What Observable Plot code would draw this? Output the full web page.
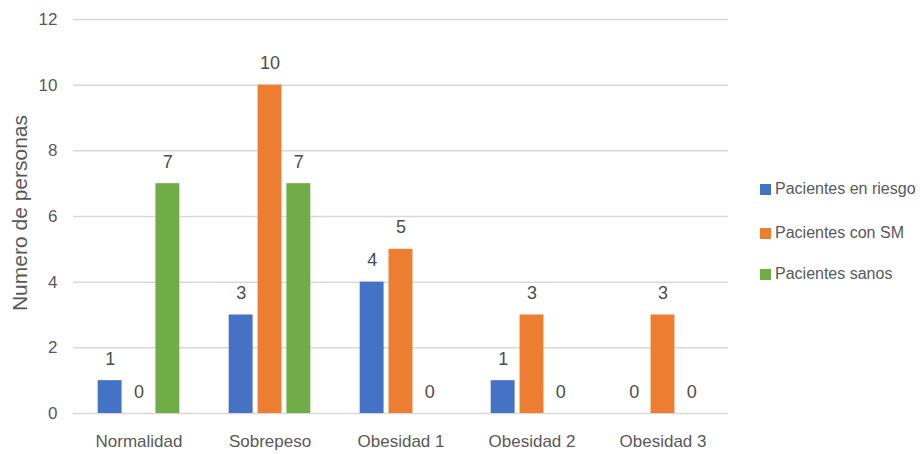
<!DOCTYPE html>
<html>
<head>
<meta charset="utf-8">
<script src="https://cdn.jsdelivr.net/npm/d3@7"></script>
<script src="https://cdn.jsdelivr.net/npm/@observablehq/plot@0.6"></script>
<style>
  html, body { margin: 0; padding: 0; background: #fff; }
  #wrap { position: relative; width: 920px; height: 454px; font-family: "Liberation Sans", Arial, sans-serif; }
  #wrap svg { position: absolute; left: 0; top: 0; }
  .ytitle { position: absolute; left: 20px; top: 213px; transform: translate(-50%, -50%) rotate(-90deg);
            font-size: 21px; color: #595959; white-space: nowrap; }
  .legend { position: absolute; left: 760px; top: 0; font-size: 16px; color: #595959; }
  .legend .row { position: absolute; left: 0; white-space: nowrap; display: flex; align-items: center; }
  .legend .sw { width: 11px; height: 11px; margin-right: 4px; }
</style>
</head>
<body>
<div id="wrap"></div>
<script>
// Categories of body mass index and the three patient groups
const categorias = ["Normalidad", "Sobrepeso", "Obesidad 1", "Obesidad 2", "Obesidad 3"];
const series = ["Pacientes en riesgo", "Pacientes con SM", "Pacientes sanos"];
const colores = ["#4472C4", "#ED7D31", "#70AD47"];
const enRiesgo = [1, 3, 4, 1, 0];
const conSM = [0, 10, 5, 3, 3];
const sanos = [7, 7, 0, 0, 0];
const yTicks = [0, 2, 4, 6, 8, 10, 12];

const valores = [enRiesgo, conSM, sanos];
const data = [];
categorias.forEach((c, i) => {
  series.forEach((s, j) => data.push({categoria: c, serie: s, valor: valores[j][i]}));
});

const chart = Plot.plot({
  width: 920,
  height: 454,
  marginLeft: 71,
  marginRight: 191,
  marginTop: 19,
  marginBottom: 41,
  style: {fontFamily: "'Liberation Sans', Arial, sans-serif", fontSize: "17px", color: "#595959", background: "#fff"},
  fx: {domain: categorias, padding: 0, label: null, axis: "bottom", tickSize: 0, tickPadding: 21},
  x: {domain: series, axis: null, paddingInner: 0.172, paddingOuter: 0.855, round: false},
  y: {domain: [0, 12], ticks: yTicks, tickSize: 0, tickPadding: 16, label: null},
  color: {domain: series, range: colores},
  marks: [
    Plot.ruleY(yTicks, {stroke: "#d9d9d9", strokeWidth: 1.5}),
    Plot.barY(data, {fx: "categoria", x: "serie", y: "valor", fill: "serie"}),
    Plot.text(data, {fx: "categoria", x: "serie", y: "valor", text: "valor", dy: -16,
                     lineAnchor: "bottom", fontSize: 18, fill: "#4d4d4d"})
  ]
});

const wrap = document.getElementById("wrap");
wrap.appendChild(chart);

const title = document.createElement("div");
title.className = "ytitle";
title.textContent = "Numero de personas";
wrap.appendChild(title);

const legend = document.createElement("div");
legend.className = "legend";
const rowTops = [189, 233, 274];
series.forEach((s, i) => {
  const row = document.createElement("div");
  row.className = "row";
  row.style.top = (rowTops[i] - 10) + "px";
  row.style.height = "20px";
  const sw = document.createElement("span");
  sw.className = "sw";
  sw.style.background = colores[i];
  const t = document.createElement("span");
  t.textContent = s;
  row.appendChild(sw);
  row.appendChild(t);
  legend.appendChild(row);
});
wrap.appendChild(legend);
</script>
</body>
</html>
